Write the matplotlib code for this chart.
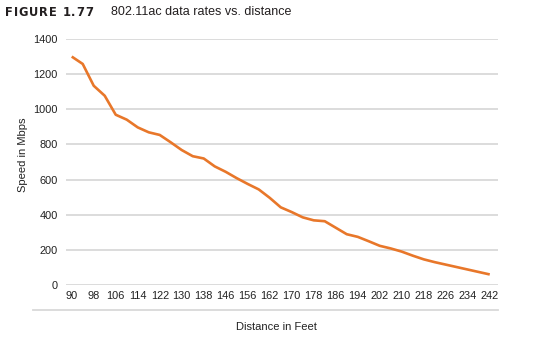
import matplotlib
matplotlib.use("Agg")
from matplotlib import pyplot as plt
from matplotlib.lines import Line2D

# categories (feet) - every other one gets a label, like the original chart
distances = ["90", "94", "98", "102", "106", "110", "114", "118", "122", "126",
             "130", "134", "138", "142", "146", "150", "156", "158", "162", "166",
             "170", "174", "178", "182", "186", "190", "194", "198", "202", "206",
             "210", "214", "218", "222", "226", "230", "234", "238", "242"]
speeds = [1300, 1258, 1134, 1077, 969, 941, 897, 869, 854, 812,
          768, 733, 720, 675, 644, 608, 575, 544, 496, 442,
          415, 385, 368, 363, 326, 289, 274, 249, 223, 208,
          190, 167, 146, 130, 116, 102, 88, 74, 60]
yticks = [0, 200, 400, 600, 800, 1000, 1200, 1400]

plt.rcParams['font.family'] = ['Liberation Sans Narrow', 'Liberation Sans', 'DejaVu Sans']

W, H = 542, 340
fig = plt.figure(figsize=(W / 100, H / 100), dpi=100)
axes = fig.add_axes([66 / W, 1 - 285 / H, 432 / W, 246 / H])

idx = list(range(len(distances)))
axes.plot(idx, speeds, color='#E8772A', linewidth=1.9, solid_capstyle='butt')

axes.set_ylim(0, 1400)
axes.set_xlim(-0.52, 38.75)
axes.set_yticks(yticks)
axes.set_yticklabels([str(v) for v in yticks], fontsize=7.9, color='#222222')
axes.set_xticks(idx[::2])
axes.set_xticklabels(distances[::2], fontsize=7.9, color='#222222')
axes.tick_params(axis='both', length=0)
axes.tick_params(axis='y', pad=6)
axes.tick_params(axis='x', pad=4)
axes.grid(axis='y', color='#D9D9D9', linewidth=1.3)
axes.set_axisbelow(True)
for s in axes.spines.values():
    s.set_visible(False)

axes.set_ylabel("Speed in Mbps", fontsize=8, color='#222222')
axes.yaxis.set_label_coords((23 - 66) / 432, (285 - 155) / 246)
axes.yaxis.label.set_va('center')
axes.set_xlabel("Distance in Feet", fontsize=8, color='#222222')
axes.xaxis.set_label_coords((276 - 66) / 432, (285 - 327) / 246)
axes.xaxis.label.set_va('center')

# thin rule under the category labels
fig.add_artist(Line2D([33 / W, 498 / W], [1 - 310 / H, 1 - 310 / H],
                      color='#D9D9D9', linewidth=1.3))

# letter-spaced "FIGURE 1.77"
renderer = fig.canvas.get_renderer()
x = 5
for ch in "FIGURE 1.77":
    t = fig.text(x / W, 1 - 12 / H, ch, fontsize=8.3, fontweight='bold',
                 family='DejaVu Sans', color='#231F20', va='center', ha='left')
    w = t.get_window_extent(renderer).width
    x += (w if ch != ' ' else 4) + 0.9
fig.text(111 / W, 1 - 12 / H, "802.11ac data rates vs. distance", fontsize=9,
         family='Liberation Sans', color='#231F20', va='center', ha='left')

fig.savefig("out.png", dpi=100)
